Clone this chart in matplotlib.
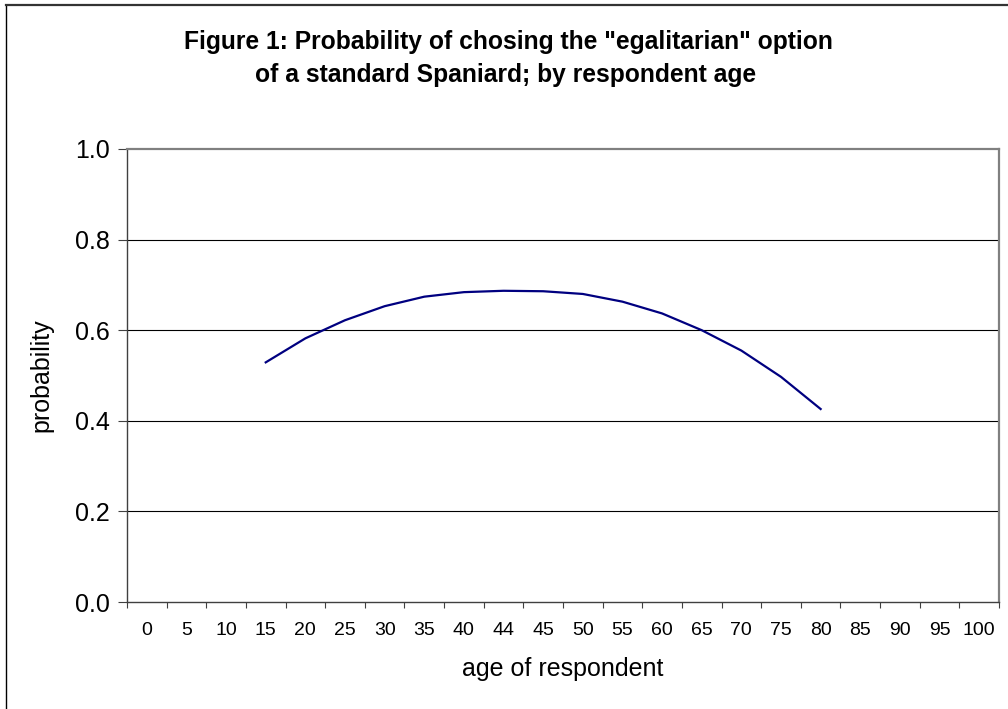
import matplotlib
matplotlib.use("Agg")
import matplotlib.pyplot as plt
from matplotlib.lines import Line2D

plt.rcParams['font.family'] = ['Liberation Sans', 'DejaVu Sans']

categories = ["0", "5", "10", "15", "20", "25", "30", "35", "40", "44", "45",
              "50", "55", "60", "65", "70", "75", "80", "85", "90", "95", "100"]
line_categories = ["15", "20", "25", "30", "35", "40", "44", "45",
                   "50", "55", "60", "65", "70", "75", "80"]
probability = [0.529, 0.582, 0.622, 0.653, 0.674, 0.684, 0.687, 0.686,
               0.680, 0.663, 0.637, 0.600, 0.555, 0.497, 0.426]
y_ticks = [0.0, 0.2, 0.4, 0.6, 0.8, 1.0]

W, H = 1008, 709
fig = plt.figure(figsize=(W / 100, H / 100), dpi=100)

# outer chart border (extends past right/bottom edge as in the reference)
fig.add_artist(Line2D([5.5 / W, 5.5 / W], [0, 1 - 5 / H], transform=fig.transFigure,
                      color='#000000', lw=1.0))
fig.add_artist(Line2D([5.5 / W, 1], [1 - 5 / H, 1 - 5 / H], transform=fig.transFigure,
                      color='#333333', lw=1.6))

ax = fig.add_axes([127 / W, 1 - 602 / H, (999 - 127) / W, (602 - 149) / H])

pos = {c: i for i, c in enumerate(categories)}
xs = [pos[c] for c in line_categories]
ax.plot(xs, probability, color='#000080', lw=1.6, solid_joinstyle='round')

ax.set_xlim(-0.5, len(categories) - 0.5)
ax.set_ylim(0, 1)

# y axis
ax.set_yticks(y_ticks)
ax.set_yticklabels([f"{v:.1f}" for v in y_ticks], fontsize=18)
ax.tick_params(axis='y', direction='out', length=6.5, width=0.8, color='#404040', pad=6)
for v in y_ticks[1:-1]:
    ax.axhline(v, color='#000000', lw=0.8, zorder=0)

# x axis: tick marks at category boundaries, labels at centres
ax.set_xticks([i - 0.5 for i in range(len(categories) + 1)])
ax.set_xticklabels([])
ax.set_xticks(list(range(len(categories))), minor=True)
ax.set_xticklabels(categories, minor=True, fontsize=14)
ax.tick_params(axis='x', which='major', direction='out', length=4, width=0.8, color='#404040')
ax.tick_params(axis='x', which='minor', length=0, pad=14.5)

for s in ['left', 'bottom']:
    ax.spines[s].set_color('#404040')
    ax.spines[s].set_linewidth(1.0)
for s in ['top', 'right']:
    ax.spines[s].set_color('#808080')
    ax.spines[s].set_linewidth(1.6)

fig.text(41 / W, 1 - 375 / H, "probability", fontsize=18, rotation=90,
         ha='center', va='center')
fig.text(563 / W, 1 - 676 / H, "age of respondent", fontsize=18,
         ha='center', va='baseline')

fig.text(508 / W, 1 - 49 / H, 'Figure 1: Probability of chosing the "egalitarian" option',
         fontsize=17.7, fontweight='bold', ha='center', va='baseline')
fig.text(506 / W, 1 - 82 / H, 'of a standard Spaniard; by respondent age',
         fontsize=17.7, fontweight='bold', ha='center', va='baseline')

fig.savefig("out.png", dpi=100)
